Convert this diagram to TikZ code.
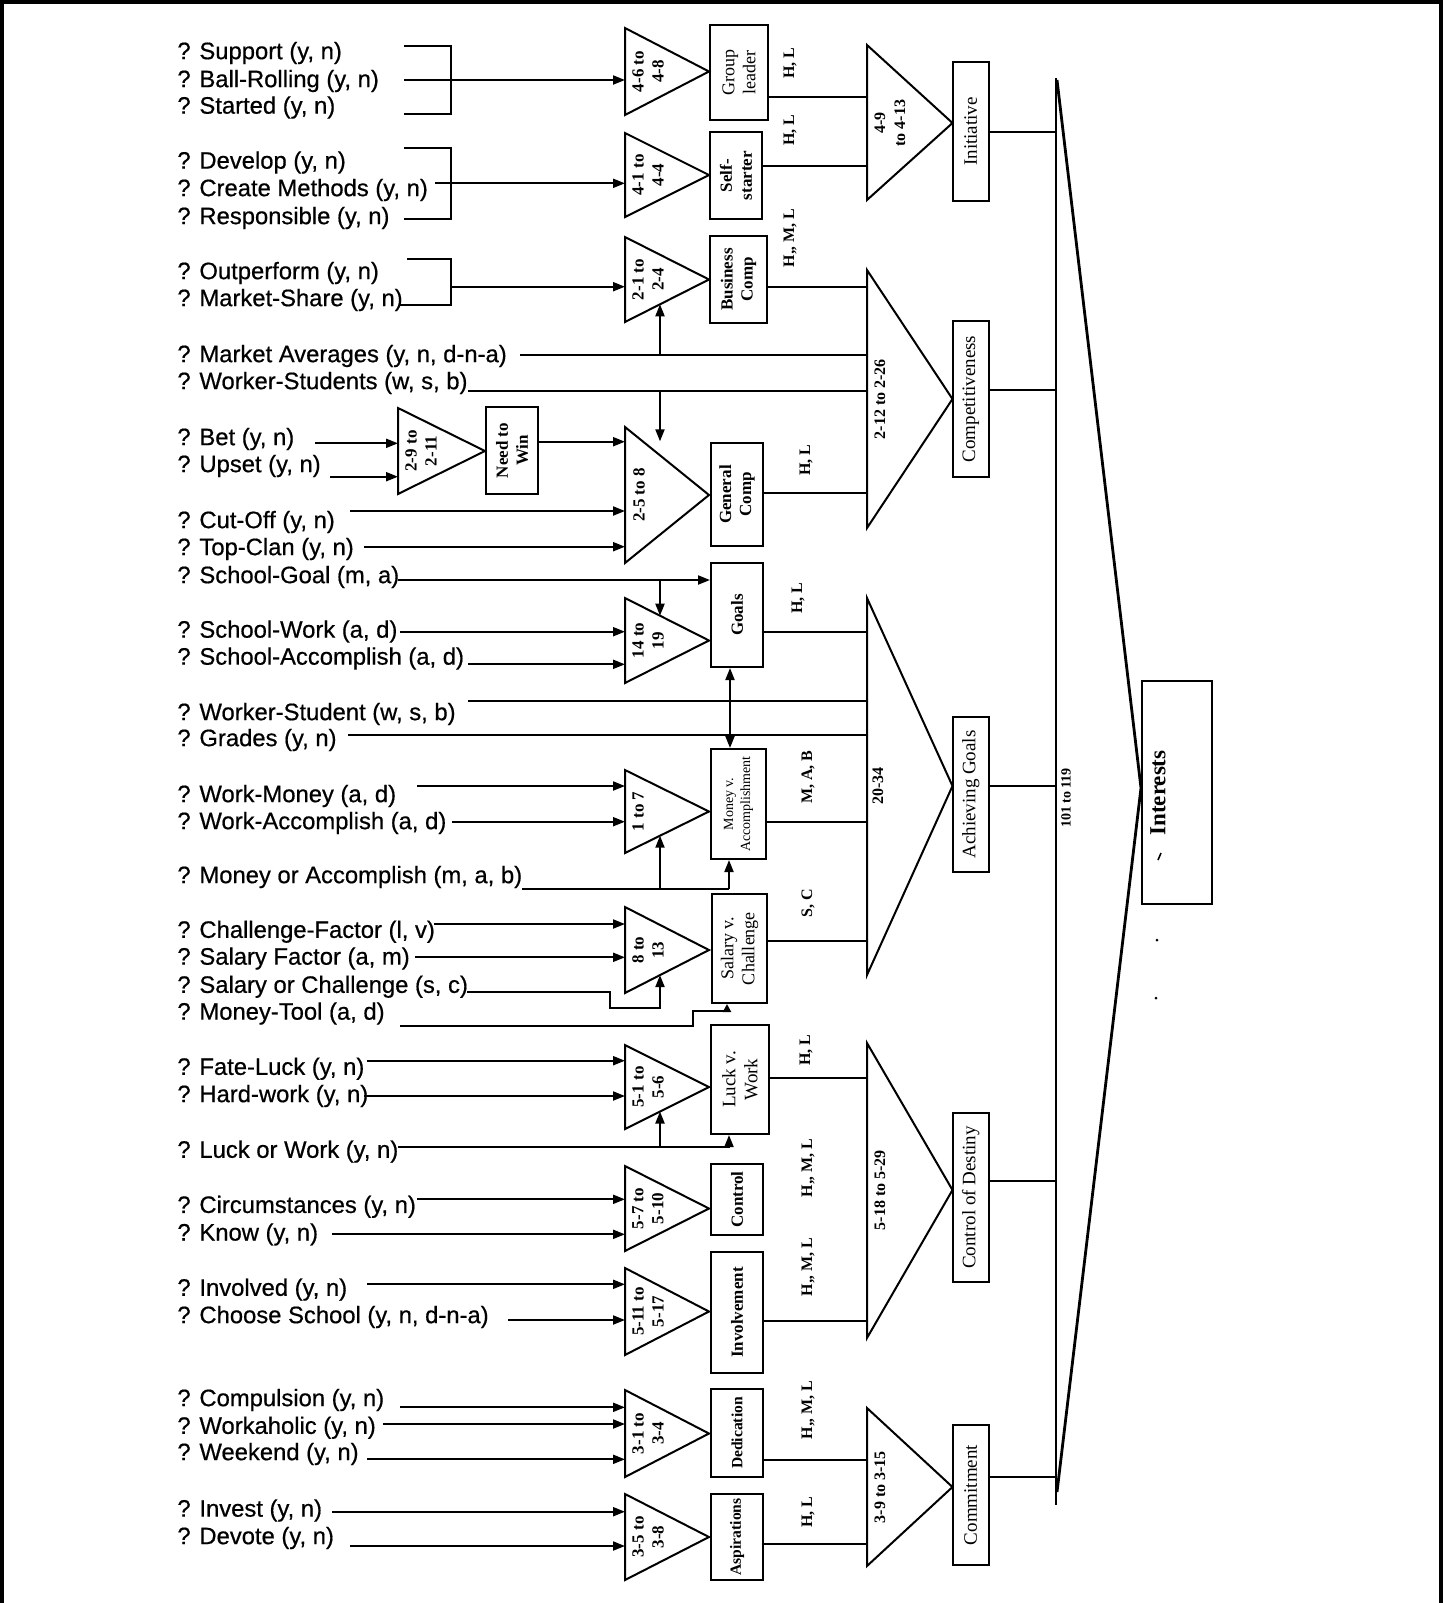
\documentclass[tikz,border=0pt]{standalone}
\usepackage{fontspec}
\setmainfont{Liberation Serif}
\newfontfamily\qfont[FakeBold=0.6]{Liberation Sans}
\usetikzlibrary{calc,arrows.meta,fit}
\tikzset{
  jline/.style={line width=1pt},
  jarr/.style={jline,-{Triangle[length=6pt,width=4.5pt]}},
  jbiarr/.style={jline,{Triangle[length=6pt,width=4.5pt]}-{Triangle[length=6pt,width=4.5pt]}},
  jtri/.style={line width=1pt,line join=miter},
  jbox/.style={draw,line width=1pt,inner sep=0pt},
  qtxt/.style={font=\qfont\fontsize{11.9}{13}\selectfont,anchor=west,inner sep=0pt},
  trilab/.style={rotate=90,align=center,inner sep=0pt,font=\bfseries\fontsize{8.5}{10}\selectfont},
  boxlab/.style={rotate=90,align=center,inner sep=0pt},
  hml/.style={rotate=90,inner sep=0pt,font=\bfseries\fontsize{8}{9}\selectfont},
  fbig/.style={font=\fontsize{9.5}{11}\selectfont},
  fmid/.style={font=\fontsize{9}{10.5}\selectfont},
  fbold/.style={font=\bfseries\fontsize{8.5}{10}\selectfont},
  fbolds/.style={font=\bfseries\fontsize{7.8}{9}\selectfont},
  fsmall/.style={font=\fontsize{7}{8.5}\selectfont},
}

\begin{document}
\begin{tikzpicture}[x=0.5pt,y=-0.5pt]
  \useasboundingbox (0,0) rectangle (1444,1603);
  % ---- frame ----
  \draw[line width=1.6pt] (2,1603) -- (2,2) -- (1441,2) -- (1441,1603);
  % ---- questions ----
  \foreach \n/\yy/\txt in {Sup/53/{Support (y, n)}, Bal/81/{Ball-Rolling (y, n)},
      Sta/107.5/{Started (y, n)}, Dev/162.5/{Develop (y, n)},
      Cre/190/{Create Methods (y, n)}, Res/218/{Responsible (y, n)},
      Out/273/{Outperform (y, n)}, MSh/300/{Market-Share (y, n)},
      Mav/356/{Market Averages (y, n, d-n-a)}, WSs/383/{Worker-Students (w, s, b)},
      Bet/439/{Bet (y, n)}, Ups/466/{Upset (y, n)},
      Cut/522/{Cut-Off (y, n)}, Top/549/{Top-Clan (y, n)},
      SGo/577/{School-Goal (m, a)}, SWo/631.5/{School-Work (a, d)},
      SAc/658.5/{School-Accomplish (a, d)}, WSt/714/{Worker-Student (w, s, b)},
      Gra/740/{Grades (y, n)}, WMo/796/{Work-Money (a, d)},
      WAc/823/{Work-Accomplish (a, d)}, MoA/877/{Money or Accomplish (m, a, b)},
      Cha/931.7/{Challenge-Factor (l, v)}, SFa/958.5/{Salary Factor (a, m)},
      SoC/986.7/{Salary or Challenge (s, c)}, MTo/1013.5/{Money-Tool (a, d)},
      Fat/1068.7/{Fate-Luck (y, n)}, Har/1096/{Hard-work (y, n)},
      LoW/1151.6/{Luck or Work (y, n)}, Cir/1206.8/{Circumstances (y, n)},
      Kno/1234.4/{Know (y, n)}, Inv/1289.6/{Involved (y, n)},
      Cho/1317/{Choose School (y, n, d-n-a)}, Com/1400/{Compulsion (y, n)},
      Wah/1427.7/{Workaholic (y, n)}, Wee/1454/{Weekend (y, n)},
      Ive/1510.5/{Invest (y, n)}, Dvt/1538/{Devote (y, n)}}
    \node[qtxt] (q\n) at (177,\yy) {? \txt};
  % line starts
  \foreach \n/\xx/\yy in {Sup/404/46, Bal/404/80, Sta/404/114, Dev/404/148,
      Cre/435/183.3, Res/404/219, Out/407/259, MSh/400/305, Mav/520/355,
      WSs/468/391, Bet/315/443.3, Ups/330/476.7, Cut/350/511, Top/364/546.7,
      SGo/398/580, SWo/400/631.7, SAc/468/664.3, WSt/468/700.7, Gra/348/735,
      WMo/417/786, WAc/452/821.7, MoA/522/889.3, Cha/434/924, SFa/415/957.3,
      SoC/467/992, MTo/400/1026, Fat/367/1060.7, Har/364/1096, LoW/398/1147.3,
      Cir/417/1199.3, Kno/332/1234.3, Inv/367/1284.3, Cho/508/1320,
      Com/400/1407.3, Wah/383/1424, Wee/367/1459.3, Ive/332/1511.7, Dvt/350/1546}
    \coordinate (l\n) at (\xx,\yy);
  % ---- first level triangles ----
  \foreach \n/\t/\b/\lx/\lab in {t46/28/115/648/{4-6 to\\4-8}, t41/133/217/648/{4-1 to\\4-4},
      t21/237/322/648/{2-1 to\\2-4}, t25/427/563/639/{2-5 to 8},
      t14/598/683/648/{14 to\\19}, t17/770/853/638/{1 to 7},
      t813/907/993/648/{8 to\\13}, t51/1045/1129/648/{5-1 to\\5-6},
      t57/1166/1251/648/{5-7 to\\5-10}, t511/1268/1355/648/{5-11 to\\5-17},
      t31/1390/1477/648/{3-1 to\\3-4}, t35/1494/1580/648/{3-5 to\\3-8}} {
    \coordinate (\n-tl) at (625,\t);
    \coordinate (\n-bl) at (625,\b);
    \coordinate (\n-a) at (709,{(\t+\b)/2});
    \draw[jtri] (\n-tl) -- (\n-a) -- (\n-bl) -- cycle;
    \node[trilab] at (\lx,{(\t+\b)/2}) {\lab};
  }
  \coordinate (t29-tl) at (398,408);
  \coordinate (t29-bl) at (398,494);
  \coordinate (t29-a) at (485,451);
  \draw[jtri] (t29-tl) -- (t29-a) -- (t29-bl) -- cycle;
  \node[trilab] at (421,451) {2-9 to\\2-11};
  % ---- second level triangles ----
  \foreach \n/\t/\b/\ay/\lx/\lab in {tIni/45/200/123/890/{4-9\\to 4-13},
      tCom/270/528/399/880/{2-12 to 2-26}, tAch/598/975/786/878/{20-34},
      tCtl/1043/1338/1190/880/{5-18 to 5-29}, tCmt/1408/1566/1487/880/{3-9 to 3-15}} {
    \coordinate (\n-tl) at (867,\t);
    \coordinate (\n-bl) at (867,\b);
    \coordinate (\n-a) at (952.5,\ay);
    \draw[jtri] (\n-tl) -- (\n-a) -- (\n-bl) -- cycle;
    \node[trilab,font=\bfseries\fontsize{8}{10}\selectfont] at (\lx,\ay) {\lab};
  }
  % ---- boxes ----
  \foreach \n/\xa/\ya/\xb/\yb/\f/\lab in {bGL/710/25/768/120/fmid/{Group\\leader},
      bSS/710/132/762/219/fbold/{Self-\\starter}, bBC/710/236/767/323/fbold/{Business\\Comp},
      bNW/486/407/538/494/fbold/{Need to\\Win}, bGC/711/443/763/546/fbold/{General\\Comp},
      bGo/711/563/763/667/fbold/{Goals}, bMA/711/749/766/859/fsmall/{Money v.\\Accomplishment},
      bSC/712/894/767/1003/fmid/{Salary v.\\Challenge}, bLW/711/1025/769/1134/fbig/{Luck v.\\Work},
      bCo/711/1164/763/1235/fbold/{Control}, bIn/711/1252/763/1373/fbold/{Involvement},
      bDe/711/1389/763/1477/fbolds/{Dedication}, bAs/711/1494/763/1580/fbolds/{Aspirations},
      bIni/952.5/62/989/201/fbig/{Initiative}, bCmp/952.5/321/989/477/fbig/{Competitiveness},
      bAch/952.5/717/989/872/fbig/{Achieving Goals}, bCtl/952.5/1113/989/1282/fbig/{Control of Destiny},
      bCmt/952.5/1425/989/1565/fbig/{Commitment}} {
    \node[jbox,fit={(\xa,\ya) (\xb,\yb)}] (\n) {};
    \node[boxlab,\f] at (\n) {\lab};
  }
  % ---- brackets and inputs ----
  \draw[jline] (lSup) -- ++(47,0) |- (lSta);
  \draw[jarr] (lBal) -- (lBal -| t46-tl);
  \draw[jline] (lDev) -- ++(47,0) |- (lRes);
  \draw[jarr] (lCre) -- (lCre -| t41-tl);
  \draw[jline] (lOut) -- ++(44,0) |- (lMSh);
  \coordinate (k3) at (451,286.7);
  \draw[jarr] (k3) -- (k3 -| t21-tl);
  \foreach \n/\t in {Bet/t29, Ups/t29, Cut/t25, Top/t25, SWo/t14, SAc/t14, WMo/t17,
      WAc/t17, Cha/t813, SFa/t813, Fat/t51, Har/t51, Cir/t57, Kno/t57, Inv/t511,
      Cho/t511, Com/t31, Wah/t31, Wee/t31, Ive/t35, Dvt/t35}
    \draw[jarr] (l\n) -- (l\n -| \t-tl);
  \draw[jarr] (bNW.east |- 0,441.7) -- (t25-tl |- 0,441.7);
  % branches onto the triangles
  \coordinate (jMav) at ($(t21-bl)!0.4167!(t21-a)$);
  \coordinate (jWSs) at ($(t25-tl)!0.4167!(t25-a)+(0,-14)$);
  \coordinate (jSGo) at ($(t14-tl)!0.4167!(t14-a)$);
  \coordinate (jMoA) at ($(t17-bl)!0.4167!(t17-a)$);
  \coordinate (jSoC) at ($(t813-bl)!0.4167!(t813-a)$);
  \coordinate (jLoW) at ($(t51-bl)!0.4167!(t51-a)$);
  \coordinate (kMA) at (bMA.south -| 729,0);
  \coordinate (kSC) at (bSC.south -| 727,0);
  \coordinate (kLW) at (bLW.south -| 729,0);
  \draw[jline] (lMav) -- (lMav -| tCom-tl);
  \draw[jarr] (jMav |- lMav) -- (jMav);
  \draw[jline] (lWSs) -- (lWSs -| tCom-tl);
  \draw[jarr] (jWSs |- lWSs) -- (jWSs);
  \draw[jarr] (lSGo) -- (lSGo -| bGo.west);
  \draw[jarr] (jSGo |- lSGo) -- (jSGo);
  \draw[jline] (lWSt) -- (lWSt -| tAch-tl);
  \draw[jline] (lGra) -- (lGra -| tAch-tl);
  \draw[jline] (lMoA) -- (lMoA -| kMA);
  \draw[jarr] (jMoA |- lMoA) -- (jMoA);
  \draw[jarr] (kMA |- lMoA) -- (kMA);
  \draw[jarr] (lSoC) -- ++(143,0) -- ++(0,16) -| (jSoC);
  \draw[jline,-{Triangle[length=4pt,width=4pt]}] (lMTo) -- ++(293,0) -- ++(0,-15) -| (kSC);
  \draw[jline] (lLoW) -- (lLoW -| kLW);
  \draw[jarr] (jLoW |- lLoW) -- (jLoW);
  \draw[jarr] (kLW |- lLoW) -- (kLW);
  \draw[jbiarr] (bGo.south -| 730,0) -- (bMA.north -| 730,0);
  % ---- outputs into the second level ----
  \foreach \b/\yy/\t in {bGL/97/tIni, bSS/165.5/tIni, bBC/286.7/tCom, bGC/493.3/tCom,
      bGo/631.7/tAch, bMA/821.5/tAch, bSC/940.5/tAch, bLW/1078/tCtl, bIn/1321/tCtl,
      bDe/1459.5/tCmt, bAs/1544/tCmt}
    \draw[jline] (\b.east |- 0,\yy) -- (\t-tl |- 0,\yy);
  \foreach \x/\yy/\lab in {790/63/{H, L}, 790/130/{H, L}, 790/238/{H,, M, L},
      806/460/{H, L}, 798/598/{H, L}, 808/777/{M, A, B}, 808/903/{S, C},
      806/1050/{H, L}, 808/1168/{H,, M, L}, 808/1267/{H,, M, L},
      808/1410/{H,, M, L}, 808/1512/{H, L}}
    \node[hml] at (\x,\yy) {\lab};
  % ---- into interests ----
  \coordinate (bar-t) at (1056,78);
  \coordinate (bar-b) at (1056,1505);
  \draw[line width=1.4pt] (bar-t) -- (bar-b);
  \foreach \b/\yy in {bIni/131.7, bCmp/390, bAch/786, bCtl/1181, bCmt/1477}
    \draw[jline] (\b.east |- 0,\yy) -- (bar-t |- 0,\yy);
  \node[jbox,fit={(1142,681) (1212,904)}] (bInt) {};
  \draw[line width=1.4pt,line join=miter] (1057,80) -- (bInt.west |- 0,788) -- (1057,1492);
  \node[hml,font=\bfseries\fontsize{7}{8}\selectfont] at (1066,798) {101 to 119};
  \node[boxlab,font=\bfseries\fontsize{11.5}{13}\selectfont] at (1158,793) {Interests};
  \draw[line width=0.8pt] (1158,860) -- (1161,853);
  \fill (1157,940) circle (1.5);
  \fill (1156,998) circle (1.5);
\end{tikzpicture}
\end{document}
